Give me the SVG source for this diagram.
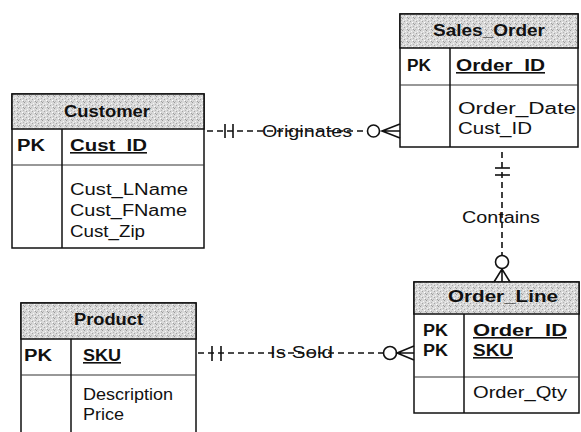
<svg xmlns="http://www.w3.org/2000/svg" width="581" height="432" viewBox="0 0 581 432">
  <defs>
    <!-- halftone grey used for entity title bars -->
    <pattern id="halftone" width="6" height="6" patternUnits="userSpaceOnUse">
      <rect width="6" height="6" fill="#d9d9d9"/>
      <rect x="0" y="0" width="1" height="1" fill="#999999"/>
      <rect x="3" y="1" width="1" height="1" fill="#f6f6f6"/>
      <rect x="2" y="3" width="1" height="1" fill="#a4a4a4"/>
      <rect x="5" y="2" width="1" height="1" fill="#b4b4b4"/>
      <rect x="4" y="4" width="1" height="1" fill="#ffffff"/>
      <rect x="1" y="5" width="1" height="1" fill="#bcbcbc"/>
      <rect x="5" y="5" width="1" height="1" fill="#9c9c9c"/>
      <rect x="1" y="2" width="1" height="1" fill="#f2f2f2"/>
    </pattern>
  </defs>
  <style>
    .box { fill: #ffffff; stroke: #111; stroke-width: 1.5; }
    .head { fill: url(#halftone); stroke: #111; stroke-width: 1.5; }
    .sep { stroke: #333; stroke-width: 1.2; }
    .div { stroke: #111; stroke-width: 1.5; }
    text { font-family: "Liberation Sans", Arial, sans-serif; font-size: 16px; fill: #111; }
    .title { font-weight: bold; }
    .pk { font-weight: bold; }
    .key { font-weight: bold; text-decoration: underline; }
    .rel { fill: none; stroke: #111; stroke-width: 1.6; stroke-dasharray: 6 4; }
    .mark { fill: none; stroke: #111; stroke-width: 1.6; }
  </style>

  <rect width="581" height="432" fill="#ffffff"/>

  <!-- Customer -->
  <g id="customer">
    <rect class="box" x="12" y="94" width="192" height="154"/>
    <rect class="head" x="12" y="94" width="192" height="35"/>
    <line class="sep" x1="12" y1="165" x2="204" y2="165"/>
    <line class="div" x1="62" y1="129" x2="62" y2="248"/>
    <text class="title" x="64" y="117" textLength="86" lengthAdjust="spacingAndGlyphs">Customer</text>
    <text class="pk" x="17" y="151" textLength="28" lengthAdjust="spacingAndGlyphs">PK</text>
    <text class="key" x="70" y="151" textLength="77" lengthAdjust="spacingAndGlyphs">Cust_ID</text>
    <text x="70" y="195" textLength="118" lengthAdjust="spacingAndGlyphs">Cust_LName</text>
    <text x="70" y="216" textLength="117" lengthAdjust="spacingAndGlyphs">Cust_FName</text>
    <text x="70" y="237" textLength="75" lengthAdjust="spacingAndGlyphs">Cust_Zip</text>
  </g>

  <!-- Sales_Order -->
  <g id="sales_order">
    <rect class="box" x="400" y="14" width="178" height="133"/>
    <rect class="head" x="400" y="14" width="178" height="34"/>
    <line class="sep" x1="400" y1="85" x2="578" y2="85"/>
    <line class="div" x1="450" y1="48" x2="450" y2="147"/>
    <text class="title" x="433" y="36" textLength="112" lengthAdjust="spacingAndGlyphs">Sales_Order</text>
    <text class="pk" x="407" y="71" textLength="24" lengthAdjust="spacingAndGlyphs">PK</text>
    <text class="key" x="456" y="71" textLength="89" lengthAdjust="spacingAndGlyphs">Order_ID</text>
    <text x="458" y="114" textLength="118" lengthAdjust="spacingAndGlyphs">Order_Date</text>
    <text x="458" y="134" textLength="74" lengthAdjust="spacingAndGlyphs">Cust_ID</text>
  </g>

  <!-- Product -->
  <g id="product">
    <rect class="box" x="21" y="303" width="175" height="140"/>
    <rect class="head" x="21" y="303" width="175" height="36"/>
    <line class="sep" x1="21" y1="375" x2="196" y2="375"/>
    <line class="div" x1="71" y1="339" x2="71" y2="443"/>
    <text class="title" x="74" y="325" textLength="69" lengthAdjust="spacingAndGlyphs">Product</text>
    <text class="pk" x="24" y="361" textLength="28" lengthAdjust="spacingAndGlyphs">PK</text>
    <text class="key" x="83" y="361" textLength="38" lengthAdjust="spacingAndGlyphs">SKU</text>
    <text x="83" y="400" textLength="90" lengthAdjust="spacingAndGlyphs">Description</text>
    <text x="83" y="420" textLength="41" lengthAdjust="spacingAndGlyphs">Price</text>
  </g>

  <!-- Order_Line -->
  <g id="order_line">
    <rect class="box" x="414" y="282" width="165" height="131"/>
    <rect class="head" x="414" y="282" width="165" height="32"/>
    <line class="sep" x1="414" y1="377" x2="579" y2="377"/>
    <line class="div" x1="464" y1="314" x2="464" y2="413"/>
    <text class="title" x="448" y="302" textLength="110" lengthAdjust="spacingAndGlyphs">Order_Line</text>
    <text class="pk" x="423" y="336" textLength="25" lengthAdjust="spacingAndGlyphs">PK</text>
    <text class="pk" x="423" y="356" textLength="25" lengthAdjust="spacingAndGlyphs">PK</text>
    <text class="key" x="473" y="336" textLength="94" lengthAdjust="spacingAndGlyphs">Order_ID</text>
    <text class="key" x="473" y="356" textLength="40" lengthAdjust="spacingAndGlyphs">SKU</text>
    <text x="473" y="398" textLength="94" lengthAdjust="spacingAndGlyphs">Order_Qty</text>
  </g>

  <!-- Relationships -->
  <g id="connectors">
    <!-- Customer one-and-only-one to Sales_Order zero-or-many -->
    <line class="rel" x1="207" y1="131" x2="367" y2="131"/>
    <line class="mark" x1="225" y1="124" x2="225" y2="138"/>
    <line class="mark" x1="233" y1="124" x2="233" y2="138"/>
    <circle class="mark" cx="373.5" cy="131" r="6"/>
    <path class="mark" d="M400 124 L382 131 L400 138 M382 131 H400"/>
    <text x="262" y="137" textLength="90" lengthAdjust="spacingAndGlyphs">Originates</text>

    <!-- Product one-and-only-one to Order_Line zero-or-many -->
    <line class="rel" x1="198" y1="353" x2="383" y2="353"/>
    <line class="mark" x1="212" y1="346" x2="212" y2="361"/>
    <line class="mark" x1="221" y1="346" x2="221" y2="361"/>
    <circle class="mark" cx="390" cy="353" r="6.5"/>
    <path class="mark" d="M414 346 L397 353 L414 360 M397 353 H414"/>
    <text x="270" y="358" textLength="63" lengthAdjust="spacingAndGlyphs">Is Sold</text>

    <!-- Sales_Order one-and-only-one to Order_Line zero-or-many -->
    <line class="rel" x1="502" y1="152" x2="502" y2="256"/>
    <line class="mark" x1="495" y1="168" x2="510" y2="168"/>
    <line class="mark" x1="495" y1="175" x2="510" y2="175"/>
    <circle class="mark" cx="502" cy="262" r="6.5"/>
    <path class="mark" d="M494 282 L502 269 L510 282 M502 269 V282"/>
    <text x="462" y="223" textLength="78" lengthAdjust="spacingAndGlyphs">Contains</text>
  </g>
</svg>
